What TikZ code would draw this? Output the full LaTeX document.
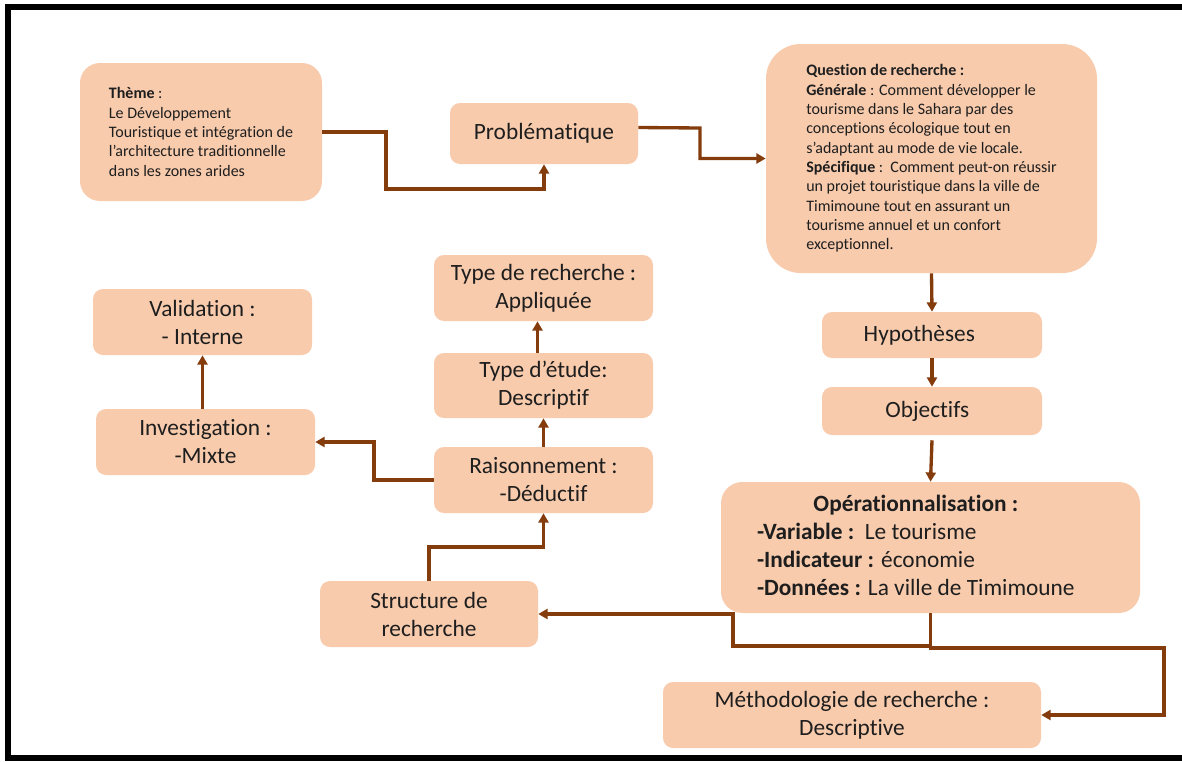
\documentclass[tikz,border=0pt]{standalone}
\usepackage{fontspec}
\setmainfont{Carlito}[Ligatures={TeX,NoCommon}]
\usetikzlibrary{arrows.meta,calc}
\definecolor{boxfill}{HTML}{F8CBAD}
\definecolor{arrowc}{HTML}{843C0C}
\definecolor{txt}{HTML}{1E1E1E}
\begin{document}
\begin{tikzpicture}[x=0.75pt,y=-0.75pt,
  box/.style={fill=boxfill, draw=none, inner sep=0pt, rounded corners=7.5pt,
    text=txt, align=center, font=\fontsize{17.5}{21}\selectfont},
  small/.style={font=\fontsize{12}{14.5}\selectfont, align=left},
  area/.style n args={4}{minimum width={(#3-#1)*0.75pt}, minimum height={(#4-#2)*0.75pt},
    anchor=center, at={({(#1+#3)/2},{(#2+#4)/2})}},
  arr/.style={draw=arrowc, line width=2.5pt, -{Triangle[length=7pt,width=7.5pt]}},
  frame/.style={draw=black, line width=4.5pt}
]
\useasboundingbox (0,0) rectangle (1182,761);
\draw[frame] (1182,7) -- (7.5,7) -- (7.5,758) -- (1182,758);

% nodes
\node[box, rounded corners=15pt, small, area={80}{63}{322}{201}] (theme)
 {\textbf{Thème} :\\Le Développement\\Touristique et intégration de\\l'architecture traditionnelle\\dans les zones arides};
\node[box, area={450}{103}{638}{164}] (prob) {Problématique};
\node[box, rounded corners=26pt, small, area={766}{44}{1097}{273}] (quest)
 {\textbf{Question de recherche :}\\
  \textbf{Générale} : Comment développer le\\
  tourisme dans le Sahara par des\\
  conceptions écologique tout en\\
  s’adaptant au mode de vie locale.\\
  \textbf{Spécifique} :\ \ Comment peut-on réussir\\
  un projet touristique dans la ville de\\
  Timimoune tout en assurant un\\
  tourisme annuel et un confort\\
  exceptionnel.};
\node[box, area={822}{312}{1042}{358}] (hyp) {Hypothèses\hspace{19pt}};
\node[box, area={822}{387}{1042}{435}] (obj) {Objectifs\hspace{7pt}};
\node[box, rounded corners=16pt, area={721}{482}{1140}{613}] (ope)
 {\begin{tabular}{@{}l@{}}
  \multicolumn{1}{@{}c@{}}{\textbf{Opérationnalisation :}}\\
  \textbf{-Variable :}\ \ Le tourisme\\
  \textbf{-Indicateur :} économie\\
  \textbf{-Données :} La ville de Timimoune
  \end{tabular}\hspace{22pt}};
\node[box, area={663}{682}{1041}{748}] (meth) {Méthodologie de recherche :\\Descriptive};
\node[box, area={320}{581}{538}{647}] (struct) {Structure de\\recherche};
\node[box, area={434}{447}{653}{513}] (rais) {Raisonnement :\\-Déductif};
\node[box, area={434}{353}{653}{418}] (etude) {Type d’étude:\\Descriptif};
\node[box, area={434}{255}{653}{321}] (trech) {Type de recherche :\\Appliquée};
\node[box, area={96}{409}{315}{475}] (inv) {Investigation :\\-Mixte};
\node[box, area={93}{289}{312}{355}] (valid) {Validation :\\- Interne};

% connectors
\draw[arr] (theme.east) -- (386,132) |- (480,189) -| (prob.south);
\draw[arr] ($(prob.east)+(0,-6)$) -- (700,128) |- (quest.west);
\draw[arr] (quest.south) -- (hyp.north);
\draw[arr] (hyp.south) -- (obj.north);
\draw[arr] ($(obj.south)+(0,5)$) -- (ope.north);
\draw[arr] (ope.south) |- (733,646) |- (struct.east);
\draw[arr] (ope.south) |- (1164,648) |- (meth.east);
\draw[arr] (struct.north) |- (480,547) -| (rais.south);
\draw[arr] (rais.north) -- (etude.south);
\draw[arr] ($(etude.north)+(-6,0)$) -- ($(trech.south)+(-6,0)$);
\draw[arr] (rais.west) -- (374,480) |- (inv.east);
\draw[arr] (valid.south |- inv.north) -- (valid.south);
\end{tikzpicture}
\end{document}
